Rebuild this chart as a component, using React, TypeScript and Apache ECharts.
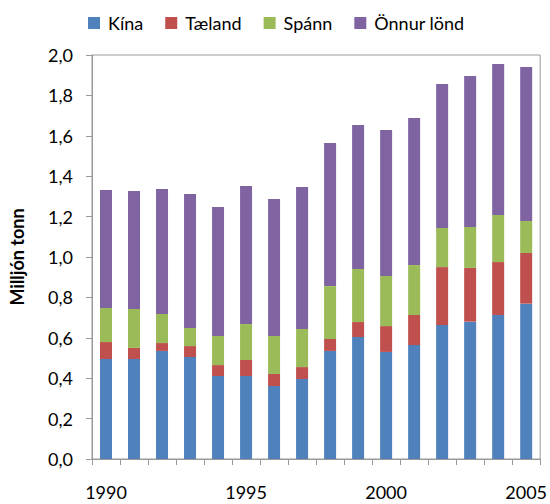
import React, { useEffect, useRef } from "react";
import * as echarts from "echarts";

const years = ["1990","1991","1992","1993","1994","1995","1996","1997","1998","1999","2000","2001","2002","2003","2004","2005"];
const kina = [0.495,0.495,0.535,0.505,0.411,0.411,0.361,0.396,0.535,0.604,0.53,0.564,0.663,0.68,0.713,0.769];
const taeland = [0.084,0.055,0.039,0.054,0.054,0.079,0.06,0.059,0.059,0.074,0.128,0.149,0.287,0.266,0.262,0.251];
const spann = [0.169,0.193,0.144,0.09,0.144,0.178,0.188,0.189,0.262,0.263,0.248,0.247,0.194,0.203,0.233,0.158];
const onnur = [0.584,0.584,0.619,0.663,0.639,0.683,0.678,0.703,0.708,0.712,0.723,0.728,0.712,0.747,0.747,0.762];

const seriesNames = ["Kína", "Tæland", "Spánn", "Önnur lönd"];
const seriesData = [kina, taeland, spann, onnur];
const colors = ["#4F81BD", "#C0504D", "#9BBB59", "#8064A2"];

const FONT = "Lato, 'Open Sans', sans-serif";

export default function App() {
  const ref = useRef<HTMLDivElement>(null);
  useEffect(() => {
    if (!ref.current) return;
    const chart = echarts.init(ref.current, undefined, { renderer: "svg" });
    chart.setOption({
      animation: false,
      color: colors,
      legend: {
        left: 83,
        top: 9,
        icon: "rect",
        itemWidth: 12,
        itemHeight: 12,
        itemGap: 22,
        textStyle: { fontFamily: FONT, fontSize: 18, color: "#000", padding: [0, 0, 0, 3] },
        data: seriesNames,
      },
      grid: {
        left: 91,
        top: 55,
        right: 9,
        bottom: 45,
        show: true,
        borderColor: "#999",
        borderWidth: 1,
        containLabel: false,
      },
      xAxis: {
        type: "category",
        data: years,
        boundaryGap: true,
        axisLine: { lineStyle: { color: "#999" } },
        axisTick: { show: true, interval: 0, length: 6, lineStyle: { color: "#999" } },
        axisLabel: { interval: 4, fontFamily: FONT, fontSize: 18, color: "#000", margin: 24 },
      },
      yAxis: {
        type: "value",
        min: 0,
        max: 2,
        interval: 0.2,
        name: "Milljón tonn",
        nameLocation: "middle",
        nameGap: 66,
        nameTextStyle: { fontFamily: FONT, fontSize: 18, fontWeight: "bold", color: "#000" },
        axisLine: { show: true, lineStyle: { color: "#999" } },
        axisTick: { show: true, length: 6, lineStyle: { color: "#999" } },
        splitLine: { show: false },
        axisLabel: {
          fontFamily: FONT,
          fontSize: 18,
          color: "#000",
          margin: 19,
          formatter: (v: number) => v.toFixed(1).replace(".", ","),
        },
      },
      series: seriesNames.map((name, i) => ({
        name,
        type: "bar",
        stack: "total",
        data: seriesData[i],
        barWidth: 12,
        itemStyle: { color: colors[i] },
      })),
    });
    return () => chart.dispose();
  }, []);
  return (
    <div
      ref={ref}
      style={{ position: "absolute", left: 0, top: 0, width: 550, height: 504 }}
    />
  );
}
